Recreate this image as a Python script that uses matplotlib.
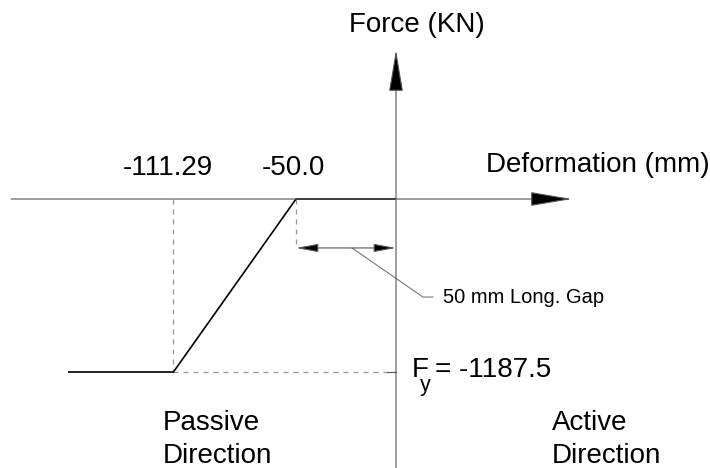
import matplotlib
matplotlib.use("Agg")
import matplotlib.pyplot as plt

plt.rcParams['font.family'] = ['Liberation Sans', 'DejaVu Sans']

# backbone curve of the gap element (passive side)
deformation = [-164.0, -111.29, -50.0, 0.0]   # mm
force = [-1187.5, -1187.5, 0.0, 0.0]          # KN
gap = 50.0
fy = -1187.5
d_yield = -111.29

fig = plt.figure(figsize=(7.10, 4.68), dpi=100)
ax = fig.add_axes([0, 0, 1, 1])
ax.set_xlim(-198, 157)
ax.set_ylim(-1846.5, 1366)
ax.axis('off')

axis_col = '#555555'
dash_col = '#999999'

# axes with arrow heads
ax.annotate('', xy=(88, 0), xytext=(-192.5, 0),
            arrowprops=dict(arrowstyle='-|>,head_length=2.66,head_width=0.45',
                            mutation_scale=10, color=axis_col, lw=0.8,
                            fc='black', shrinkA=0, shrinkB=0))
ax.annotate('', xy=(0, 1023), xytext=(0, -1846.5),
            arrowprops=dict(arrowstyle='-|>,head_length=2.66,head_width=0.45',
                            mutation_scale=10, color=axis_col, lw=0.8,
                            fc='black', shrinkA=0, shrinkB=0))

# helper dashed lines
ax.plot([d_yield, d_yield], [0, fy], ls=(0, (4, 4)), color=dash_col, lw=0.9)
ax.plot([d_yield, 0], [fy, fy], ls=(0, (4, 4)), color=dash_col, lw=0.9)
ax.plot([-gap, -gap], [0, -336], ls=(0, (4, 4)), color=dash_col, lw=0.9)
ax.plot([-4.5, 0], [fy, fy], color=axis_col, lw=0.8)

# the force-deformation curve
ax.plot(deformation, force, color='black', lw=1.2, solid_capstyle='butt')

# gap dimension
ax.annotate('', xy=(0, -336), xytext=(-gap, -336),
            arrowprops=dict(arrowstyle='<|-|>,head_length=1.35,head_width=0.25',
                            mutation_scale=10, color=axis_col, lw=0.8,
                            fc='black', shrinkA=0, shrinkB=0))
ax.plot([-22, 13.5, 18.5], [-336, -673, -673], color='#777777', lw=0.8)
ax.text(23.5, -673, '50 mm Long. Gap', fontsize=14.5, va='center', ha='left')

fs = 20
ax.text(10.5, 1195, 'Force (KN)', fontsize=fs, ha='center', va='center')
ax.text(101, 233, 'Deformation (mm)', fontsize=fs, ha='center', va='center')
ax.text(-114, 212, '-111.29', fontsize=fs, ha='center', va='center')
ax.text(-51.5, 212, '-50.0', fontsize=fs, ha='center', va='center')
ax.text(8, -1220, 'F', fontsize=fs, ha='left', va='baseline')
ax.text(12, -1318, 'y', fontsize=15.5, ha='left', va='baseline')
ax.text(19.5, -1220, '= -1187.5', fontsize=fs, ha='left', va='baseline')
ax.text(-116.5, -1812, 'Passive\nDirection', fontsize=fs, ha='left', va='baseline',
        linespacing=1.35)
ax.text(78, -1812, 'Active\nDirection', fontsize=fs, ha='left', va='baseline',
        linespacing=1.35)

fig.savefig('out.png', dpi=100)
